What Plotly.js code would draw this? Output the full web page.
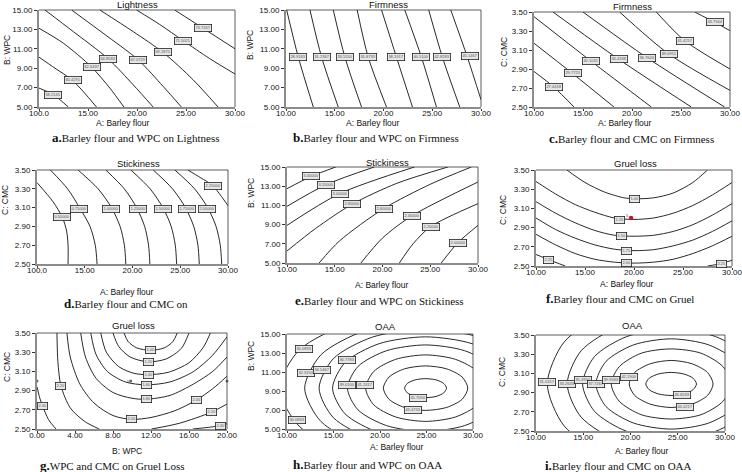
<!DOCTYPE html>
<html>
<head>
<meta charset="utf-8">
<script src="https://cdn.plot.ly/plotly-3.0.1.min.js"></script>
<style>
  html, body { margin: 0; padding: 0; background: #fff; }
  #chart { width: 742px; height: 472px; }
</style>
</head>
<body>
<div id="chart"></div>
<script>
// tick values / labels
const barleyTicks = [10, 15, 20, 25, 30];
const barleyLabels = ['10.00', '15.00', '20.00', '25.00', '30.00'];
const barleyLabelsOdd = ['100.0', '15.00', '20.00', '25.00', '30.00']; // printed like this in a and d
const wpcTicks = [5, 7, 9, 11, 13, 15];
const wpcLabels = ['5.00', '7.00', '9.00', '11.00', '13.00', '15.00'];
const wpcWideTicks = [0, 4, 8, 12, 16, 20];
const wpcWideLabels = ['0.00', '4.00', '8.00', '12.00', '16.00', '20.00'];
const cmcTicks = [2.5, 2.7, 2.9, 3.1, 3.3, 3.5];
const cmcLabels = ['2.50', '2.70', '2.90', '3.10', '3.30', '3.50'];

// a. Lightness (barley x WPC) - contour lines
const lightnessX = [
  [10, 11.46, 12.99],
  [10, 11.63, 13.43, 15.87],
  [10, 12.48, 15.37, 17.23, 18.66],
  [10.61, 13.5, 17.06, 19.61, 21.65],
  [13.33, 16.55, 20.12, 22.67, 24.53],
  [16.21, 19.61, 22.67, 25.72, 28.27],
  [19.95, 22.33, 24.7, 27.4, 30],
  [23.85, 26.74, 30]
];
const lightnessY = [
  [6.95, 6.27, 5],
  [10.14, 9.0, 7.74, 5],
  [13.12, 11.58, 9.11, 6.95, 5],
  [15, 12.77, 9.97, 7.29, 5],
  [15, 12.6, 9.86, 7.12, 5],
  [15, 12.77, 10.62, 7.81, 5],
  [15, 13.5, 11.85, 10.0, 8.4],
  [15, 13.12, 11.0]
];
const lightnessLabX = [11.46, 13.43, 15.37, 17.06, 20.12, 22.67, 24.7, 26.74];
const lightnessLabY = [6.27, 7.74, 9.11, 9.97, 9.86, 10.62, 11.85, 13.12];
const lightnessLabText = ['58.2145', '60.4291', '62.6437', '64.8583', '67.0729', '69.2875', '71.5021', '73.7167'];

// b. Firmness (barley x WPC)
const firmWpcX = [
  [10.07, 11.26, 12.8],
  [12.46, 13.65, 15.36],
  [14.85, 16.04, 17.75],
  [17.3, 18.43, 20.31],
  [19.8, 21.33, 22.97],
  [22.18, 23.89, 25.43],
  [24.64, 26.04, 27.82],
  [26.9, 28.6, 30]
];
const firmWpcY = [
  [15, 10.14, 5], [15, 10.14, 5], [15, 10.14, 5], [15, 10.14, 5],
  [15, 10.14, 5], [15, 10.14, 5], [15, 10.14, 5], [15, 10.14, 5.75]
];
const firmWpcLabX = [11.26, 13.65, 16.04, 18.43, 21.33, 23.89, 26.04, 28.9];
const firmWpcLabY = [10.14, 10.14, 10.2, 10.14, 10.14, 10.14, 10.14, 10.3];
const firmWpcLabText = ['28.9183', '31.2367', '33.5550', '35.8733', '38.1917', '40.5100', '42.8283', '45.1467'];

// c. Firmness (barley x CMC)
const firmCmcX = [
  [10, 12.04, 14.08],
  [10, 13.93, 18.16],
  [10, 15.78, 21.97],
  [11.94, 18.64, 26.05],
  [15.0, 21.56, 29.45],
  [18.74, 23.74, 30],
  [22.48, 25.37, 30],
  [26.4, 28.43, 30]
];
const firmCmcY = [
  [2.874, 2.708, 2.5],
  [3.171, 2.853, 2.5],
  [3.451, 2.986, 2.5],
  [3.5, 3.003, 2.5],
  [3.5, 3.017, 2.5],
  [3.5, 3.059, 2.675],
  [3.5, 3.199, 2.9],
  [3.5, 3.392, 3.304]
];
const firmCmcLabX = [12.04, 13.93, 15.78, 18.64, 21.56, 23.74, 25.37, 28.43];
const firmCmcLabY = [2.708, 2.853, 2.986, 3.003, 3.017, 3.059, 3.199, 3.392];
const firmCmcLabText = ['27.4418', '29.7725', '32.1031', '34.4338', '36.7644', '39.0951', '41.4257', '43.7564'];

// d. Stickiness (barley x CMC)
const stickCmcX = [
  [10, 11.68, 12.66, 13.1, 13.25, 13.25],
  [11.4, 13.2, 14.45, 15.55, 16.1, 16.29],
  [14.3, 16.4, 17.8, 18.7, 19.15, 19.3],
  [17.2, 19.14, 20.43, 21.27, 21.68, 21.82],
  [19.83, 21.84, 23.18, 24.05, 24.48, 24.62],
  [22.17, 24.19, 25.54, 26.41, 26.85, 26.99],
  [24.44, 26.5, 27.87, 28.75, 29.19, 29.34],
  [25.8, 27.1, 28.39, 29.3, 30]
];
const stickCmcY = [
  [3.366, 3.162, 2.996, 2.85, 2.7, 2.5],
  [3.5, 3.3, 3.1, 2.9, 2.7, 2.5],
  [3.5, 3.3, 3.1, 2.9, 2.7, 2.5],
  [3.5, 3.3, 3.1, 2.9, 2.7, 2.5],
  [3.5, 3.3, 3.1, 2.9, 2.7, 2.5],
  [3.5, 3.3, 3.1, 2.9, 2.7, 2.5],
  [3.5, 3.3, 3.1, 2.9, 2.7, 2.5],
  [3.5, 3.42, 3.335, 3.22, 3.12]
];
const stickCmcLabX = [12.66, 14.41, 17.8, 20.59, 23.22, 25.66, 27.83, 28.39];
const stickCmcLabY = [2.996, 3.085, 3.085, 3.085, 3.085, 3.085, 3.085, 3.335];
const stickCmcLabText = ['0.50000', '0.75000', '1.00000', '1.25000', '1.50000', '1.75000', '2.00000', '2.25000'];

// e. Stickiness (barley x WPC)
const stickWpcX = [
  [10, 12.56, 15.11],
  [10, 14.1, 19.14],
  [10, 15.5, 23.35],
  [10, 13, 16.8, 21.5, 26.85],
  [13.36, 15.5, 20.12, 25, 29.3],
  [17.74, 20, 23.06, 30],
  [21.77, 23.2, 25.03, 30],
  [26.15, 27.9, 30]
];
const stickWpcY = [
  [12.74, 14.03, 15],
  [10.9, 13.16, 15],
  [8.92, 12.22, 15],
  [6.25, 8.6, 11.11, 13.3, 15],
  [5, 7.3, 10.66, 13.2, 15],
  [5, 7.6, 9.9, 13.44],
  [5, 7.0, 8.78, 11.18],
  [5, 7.12, 8.92]
];
const stickWpcLabX = [12.56, 14.1, 15.5, 16.8, 20.12, 23.06, 25.03, 27.9];
const stickWpcLabY = [14.03, 13.16, 12.22, 11.11, 10.66, 9.9, 8.78, 7.12];
const stickWpcLabText = ['3.40000', '3.20000', '3.00000', '2.80000', '2.60000', '2.40000', '2.20000', '2.00000'];

// f. Gruel loss (barley x CMC)
const gruelBfX = [
  [13.15, 15, 17, 19, 20.1, 22, 24, 26, 27.5],
  [10, 12, 14, 16, 18, 20, 22, 24, 26, 28, 30],
  [10, 12, 14, 16, 18, 20, 22, 24, 26, 28, 30],
  [10, 12, 14, 16, 18, 20, 22, 24, 26, 28, 30],
  [10, 12, 14, 16, 18, 20, 22, 24, 26, 28, 30],
  [10, 11.29, 12.98],
  [27.5, 28.9, 30]
];
const gruelBfY = [
  [3.5, 3.37, 3.27, 3.21, 3.2, 3.21, 3.26, 3.37, 3.5],
  [3.38, 3.25, 3.14, 3.06, 3.0, 2.985, 3.0, 3.05, 3.13, 3.24, 3.37],
  [3.17, 3.05, 2.95, 2.87, 2.82, 2.81, 2.82, 2.86, 2.93, 3.03, 3.15],
  [3.0, 2.88, 2.79, 2.72, 2.675, 2.66, 2.67, 2.71, 2.77, 2.86, 2.97],
  [2.83, 2.72, 2.63, 2.57, 2.54, 2.53, 2.54, 2.57, 2.63, 2.71, 2.81],
  [2.62, 2.566, 2.5],
  [2.5, 2.525, 2.56]
];
const gruelBfLabX = [20.1, 18.47, 18.7, 19.25, 19.25, 11.29, 28.9];
const gruelBfLabY = [3.2, 2.98, 2.81, 2.66, 2.53, 2.566, 2.525];
const gruelBfLabText = ['1.00', '1.25', '1.50', '1.75', '2.00', '2.25', '2.25'];
const gruelBfPointX = [19.7];
const gruelBfPointY = [3.0];

// g. Gruel loss (WPC x CMC)
const gruelWcX = [
  [9.16, 9.6, 10.5, 11.96, 13.4, 14.3, 14.76],
  [8.0, 8.6, 9.8, 11.7, 13.6, 15.2, 16.0],
  [6.71, 7.3, 8.6, 10.2, 11.7, 13.8, 16.0, 17.5, 18.25],
  [5.66, 6.2, 7.4, 9.3, 11.5, 14.0, 16.5, 18.5, 20],
  [4.6, 5.1, 6.2, 8.0, 10.0, 11.5, 14.0, 16.5, 18.5, 20],
  [3.15, 3.5, 4.5, 6.0, 8.0, 9.97, 12.0, 14.5, 16.75, 18.5, 20],
  [2.1, 2.2, 2.52, 3.5, 5.0, 6.54],
  [12.06, 15.0, 18.32, 20],
  [0, 0.3, 0.59, 1.2, 2.0],
  [16.4, 18.3, 19.3, 20]
];
const gruelWcY = [
  [3.5, 3.41, 3.345, 3.32, 3.345, 3.41, 3.5],
  [3.5, 3.36, 3.25, 3.2, 3.23, 3.34, 3.5],
  [3.5, 3.3, 3.15, 3.08, 3.066, 3.09, 3.19, 3.35, 3.5],
  [3.5, 3.28, 3.1, 2.99, 2.96, 2.99, 3.1, 3.27, 3.46],
  [3.5, 3.25, 3.03, 2.88, 2.82, 2.81, 2.85, 2.97, 3.1, 3.25],
  [3.5, 3.25, 2.97, 2.77, 2.64, 2.6, 2.62, 2.69, 2.8, 2.92, 3.05],
  [3.5, 3.2, 2.95, 2.72, 2.58, 2.5],
  [2.5, 2.56, 2.674, 2.76],
  [2.94, 2.82, 2.74, 2.6, 2.5],
  [2.5, 2.52, 2.535, 2.555]
];
const gruelWcLabX = [11.96, 11.71, 11.71, 11.5, 11.5, 9.97, 16.75, 2.52, 18.32, 0.59, 19.3];
const gruelWcLabY = [3.326, 3.2, 3.066, 2.96, 2.81, 2.6, 2.8, 2.95, 2.674, 2.74, 2.535];
const gruelWcLabText = ['1.00', '1.20', '1.40', '1.60', '1.80', '2.00', '2.00', '2.20', '2.20', '2.40', '2.40'];
const gruelWcPointX = [0, 20, 9.86];
const gruelWcPointY = [3.0, 3.0, 3.0];

// h. OAA (barley x WPC) - closed rings, clipped by the axes
const oaaWpcX = [
  [27.15, 26.85, 26.03, 24.9, 23.78, 22.95, 22.65, 22.95, 23.78, 24.9, 26.03, 26.85, 27.15],
  [29.44, 28.83, 27.17, 24.9, 22.63, 20.97, 20.36, 20.97, 22.63, 24.9, 27.17, 28.83, 29.44],
  [31.34, 30.48, 28.12, 24.9, 21.68, 19.32, 18.46, 19.32, 21.68, 24.9, 28.12, 30.48, 31.34],
  [33.3, 32.17, 29.1, 24.9, 20.7, 17.63, 16.5, 17.63, 20.7, 24.9, 29.1, 32.17, 33.3],
  [34.9, 33.56, 29.9, 24.9, 19.9, 16.24, 14.9, 16.24, 19.9, 24.9, 29.9, 33.56, 34.9],
  [36.35, 34.82, 30.63, 24.9, 19.17, 14.98, 13.45, 14.98, 19.17, 24.9, 30.63, 34.82, 36.35],
  [37.9, 36.16, 31.4, 24.9, 18.4, 13.64, 11.9, 13.64, 18.4, 24.9, 31.4, 36.16, 37.9],
  [40.6, 38.5, 32.75, 24.9, 17.05, 11.3, 9.2, 11.3, 17.05, 24.9, 32.75, 38.5, 40.6]
];
const oaaWpcY = [
  [9.3, 9.8, 10.17, 10.3, 10.17, 9.8, 9.3, 8.8, 8.43, 8.3, 8.43, 8.8, 9.3],
  [9.3, 10.47, 11.33, 11.64, 11.33, 10.47, 9.3, 8.13, 7.27, 6.96, 7.27, 8.13, 9.3],
  [9.3, 11.05, 12.33, 12.8, 12.33, 11.05, 9.3, 7.55, 6.27, 5.8, 6.27, 7.55, 9.3],
  [9.3, 11.58, 13.24, 13.85, 13.24, 11.58, 9.3, 7.02, 5.36, 4.75, 5.36, 7.02, 9.3],
  [9.3, 12.0, 13.98, 14.7, 13.98, 12.0, 9.3, 6.6, 4.62, 3.9, 4.62, 6.6, 9.3],
  [9.3, 12.4, 14.67, 15.5, 14.67, 12.4, 9.3, 6.2, 3.93, 3.1, 3.93, 6.2, 9.3],
  [9.3, 12.8, 15.36, 16.3, 15.36, 12.8, 9.3, 5.8, 3.24, 2.3, 3.24, 5.8, 9.3],
  [9.3, 13.3, 16.23, 17.3, 16.23, 13.3, 9.3, 5.3, 2.37, 1.3, 2.37, 5.3, 9.3]
];
const oaaWpcLabX = [11.82, 12.0, 13.8, 16.44, 16.48, 18.34, 24.06, 23.56, 11.1];
const oaaWpcLabY = [13.39, 10.87, 11.22, 12.27, 9.65, 9.65, 8.3, 7.0, 5.98];
const oaaWpcLabText = ['30.0833', '32.3150', '34.5467', '36.7783', '39.0100', '41.2417', '45.7050', '43.4733', '30.0833'];

// i. OAA (barley x CMC)
const oaaCmcX = [
  [26.98, 26.62, 25.64, 24.3, 22.96, 21.98, 21.62, 21.98, 22.96, 24.3, 25.64, 26.62, 26.98],
  [28.74, 28.15, 26.52, 24.3, 22.08, 20.45, 19.86, 20.45, 22.08, 24.3, 26.52, 28.15, 28.74],
  [30.64, 29.79, 27.47, 24.3, 21.13, 18.81, 17.96, 18.81, 21.13, 24.3, 27.47, 29.79, 30.64],
  [32.26, 31.19, 28.28, 24.3, 20.32, 17.41, 16.34, 17.41, 20.32, 24.3, 28.28, 31.19, 32.26],
  [33.67, 32.41, 28.99, 24.3, 19.61, 16.19, 14.93, 16.19, 19.61, 24.3, 28.99, 32.41, 33.67],
  [35.3, 33.83, 29.8, 24.3, 18.8, 14.77, 13.3, 14.77, 18.8, 24.3, 29.8, 33.83, 35.3],
  [37.4, 35.64, 30.85, 24.3, 17.75, 12.96, 11.2, 12.96, 17.75, 24.3, 30.85, 35.64, 37.4]
];
const oaaCmcY = [
  [2.99, 3.05, 3.094, 3.11, 3.094, 3.05, 2.99, 2.93, 2.886, 2.87, 2.886, 2.93, 2.99],
  [2.99, 3.11, 3.2, 3.235, 3.2, 3.11, 2.99, 2.87, 2.78, 2.745, 2.78, 2.87, 2.99],
  [2.99, 3.17, 3.31, 3.355, 3.31, 3.17, 2.99, 2.81, 2.67, 2.625, 2.67, 2.81, 2.99],
  [2.99, 3.225, 3.397, 3.46, 3.397, 3.225, 2.99, 2.755, 2.583, 2.52, 2.583, 2.755, 2.99],
  [2.99, 3.275, 3.484, 3.56, 3.484, 3.275, 2.99, 2.705, 2.496, 2.42, 2.496, 2.705, 2.99],
  [2.99, 3.335, 3.588, 3.68, 3.588, 3.335, 2.99, 2.645, 2.392, 2.3, 2.392, 2.645, 2.99],
  [2.99, 3.425, 3.743, 3.86, 3.743, 3.425, 2.99, 2.555, 2.237, 2.12, 2.237, 2.555, 2.99]
];
const oaaCmcLabX = [11.16, 13.27, 14.93, 16.34, 17.96, 19.86, 25.5, 25.8];
const oaaCmcLabY = [3.01, 2.99, 3.03, 2.99, 3.03, 3.06, 2.875, 2.755];
const oaaCmcLabText = ['31.0317', '33.2633', '35.4950', '37.7267', '39.9583', '42.1900', '46.6533', '44.4217'];

// panel geometry in page pixels: [left, right, top, bottom]
const panels = [
  { box: [39, 235, 10, 107], lx: lightnessX, ly: lightnessY, labX: lightnessLabX, labY: lightnessLabY, labT: lightnessLabText,
    xr: [10, 30], xt: [barleyTicks, barleyLabelsOdd], yr: [5, 15], yt: [wpcTicks, wpcLabels],
    title: ['Lightness', 137, 5], xTitle: ['A: Barley flour', 123, 123], yTitle: ['B: WPC', 7, 50],
    cap: ['a.', 'Barley flour and WPC on Lightness', 136, 137] },
  { box: [286, 481, 10, 107], lx: firmWpcX, ly: firmWpcY, labX: firmWpcLabX, labY: firmWpcLabY, labT: firmWpcLabText,
    xr: [10, 30], xt: [barleyTicks, barleyLabels], yr: [5, 15], yt: [wpcTicks, wpcLabels],
    title: ['Firmness', 388, 5], xTitle: ['A: Barley flour', 373, 123], yTitle: ['B: WPC', 250, 45],
    cap: ['b.', 'Barley flour and WPC on Firmness', 376, 137] },
  { box: [534, 730, 12, 107], lx: firmCmcX, ly: firmCmcY, labX: firmCmcLabX, labY: firmCmcLabY, labT: firmCmcLabText,
    xr: [10, 30], xt: [barleyTicks, barleyLabels], yr: [2.5, 3.5], yt: [cmcTicks, cmcLabels],
    title: ['Firmness', 632, 7], xTitle: ['A: Barley flour', 625, 123], yTitle: ['C: CMC', 504, 52],
    cap: ['c.', 'Barley flour and CMC on Firmness', 631, 138] },
  { box: [37, 228, 170, 264], lx: stickCmcX, ly: stickCmcY, labX: stickCmcLabX, labY: stickCmcLabY, labT: stickCmcLabText,
    xr: [10, 30], xt: [barleyTicks, barleyLabelsOdd], yr: [2.5, 3.5], yt: [cmcTicks, cmcLabels],
    title: ['Stickiness', 138, 163], xTitle: ['A: Barley flour', 127, 292], yTitle: ['C: CMC', 5, 200],
    cap: ['d.', 'Barley flour and CMC on', 126, 303] },
  { box: [287, 478, 167, 263], lx: stickWpcX, ly: stickWpcY, labX: stickWpcLabX, labY: stickWpcLabY, labT: stickWpcLabText,
    xr: [10, 30], xt: [barleyTicks, barleyLabels], yr: [5, 15], yt: [wpcTicks, wpcLabels],
    title: ['Stickiness', 387, 162], xTitle: ['A: Barley flour', 382, 285], yTitle: ['B: WPC', 251, 193],
    cap: ['e.', 'Barley flour and WPC on Stickiness', 379, 300] },
  { box: [536, 732, 170, 266], lx: gruelBfX, ly: gruelBfY, labX: gruelBfLabX, labY: gruelBfLabY, labT: gruelBfLabText,
    xr: [10, 30], xt: [barleyTicks, barleyLabels], yr: [2.5, 3.5], yt: [cmcTicks, cmcLabels],
    title: ['Gruel loss', 635, 163], xTitle: ['A: Barley flour', 627, 284], yTitle: ['C: CMC', 503, 210],
    cap: ['f.', 'Barley flour and CMC on Gruel', 620, 298],
    pts: [gruelBfPointX, gruelBfPointY, '#c0182a', 4.5] },
  { box: [37, 227, 333, 429], lx: gruelWcX, ly: gruelWcY, labX: gruelWcLabX, labY: gruelWcLabY, labT: gruelWcLabText,
    xr: [0, 20], xt: [wpcWideTicks, wpcWideLabels], yr: [2.5, 3.5], yt: [cmcTicks, cmcLabels],
    title: ['Gruel loss', 133, 325], xTitle: ['B: WPC', 127, 451], yTitle: ['C: CMC', 7, 367],
    cap: ['g.', 'WPC and CMC on Gruel Loss', 112, 465],
    pts: [gruelWcPointX, gruelWcPointY, '#666', 3] },
  { box: [287, 473, 334, 429], lx: oaaWpcX, ly: oaaWpcY, labX: oaaWpcLabX, labY: oaaWpcLabY, labT: oaaWpcLabText,
    xr: [10, 30], xt: [barleyTicks, barleyLabels], yr: [5, 15], yt: [wpcTicks, wpcLabels],
    title: ['OAA', 385, 326], xTitle: ['A: Barley flour', 397, 447], yTitle: ['B: WPC', 251, 356],
    cap: ['h.', 'Barley flour and WPC on OAA', 367, 464] },
  { box: [536, 725, 335, 431], lx: oaaCmcX, ly: oaaCmcY, labX: oaaCmcLabX, labY: oaaCmcLabY, labT: oaaCmcLabText,
    xr: [10, 30], xt: [barleyTicks, barleyLabels], yr: [2.5, 3.5], yt: [cmcTicks, cmcLabels],
    title: ['OAA', 632, 325], xTitle: ['A: Barley flour', 642, 451], yTitle: ['C: CMC', 502, 372],
    cap: ['i.', 'Barley flour and CMC on OAA', 618, 465] }
];

const W = 742, H = 472;
const sans = 'Liberation Sans, Arial, sans-serif';
const serif = 'Liberation Serif, Times New Roman, serif';
const fx = (v) => v / W;
const fy = (v) => 1 - v / H;

const traces = [];
const annotations = [];
const shapes = [];
const layout = {
  width: W, height: H,
  margin: { l: 0, r: 0, t: 0, b: 0 },
  paper_bgcolor: '#fff', plot_bgcolor: '#fff',
  showlegend: false,
  font: { family: sans, color: '#111' }
};

function pageText(text, x, y, size, extra) {
  annotations.push(Object.assign({
    text: text, xref: 'paper', yref: 'paper', x: fx(x), y: fy(y),
    xanchor: 'center', yanchor: 'middle', showarrow: false,
    font: { family: sans, size: size, color: '#111' }
  }, extra || {}));
}

panels.forEach((p, idx) => {
  const n = idx + 1;
  const sfx = n === 1 ? '' : String(n);
  const xa = 'x' + sfx, ya = 'y' + sfx;

  // left and bottom axes are heavier grey lines, top/right is a thin dark frame
  layout['xaxis' + sfx] = {
    domain: [fx(p.box[0]), fx(p.box[1])], range: p.xr, anchor: ya,
    tickvals: p.xt[0], ticktext: p.xt[1], ticks: 'outside', ticklen: 2, tickwidth: 1,
    ticklabelstandoff: -4, ticklabeloverflow: 'allow',
    tickcolor: '#333', tickfont: { size: 8, family: sans, color: '#111' },
    showline: true, mirror: false, linecolor: '#8c8c8c', linewidth: 1.6,
    showgrid: false, zeroline: false, fixedrange: true
  };
  layout['yaxis' + sfx] = {
    domain: [fy(p.box[3]), fy(p.box[2])], range: p.yr, anchor: xa,
    tickvals: p.yt[0], ticktext: p.yt[1], ticks: 'outside', ticklen: 3, tickwidth: 1,
    ticklabeloverflow: 'allow',
    tickcolor: '#333', tickfont: { size: 8, family: sans, color: '#111' },
    showline: true, mirror: false, linecolor: '#8c8c8c', linewidth: 2,
    showgrid: false, zeroline: false, fixedrange: true
  };
  shapes.push({
    type: 'path', xref: xa + ' domain', yref: ya + ' domain',
    path: 'M 0 1 L 1 1 L 1 0', line: { color: '#333', width: 0.8 }
  });

  // contour lines
  p.lx.forEach((xs, k) => {
    traces.push({
      type: 'scatter', mode: 'lines', x: xs, y: p.ly[k], xaxis: xa, yaxis: ya,
      line: { color: '#111', width: 0.9, shape: 'spline', smoothing: 0.8 },
      hoverinfo: 'skip', showlegend: false
    });
  });

  // design points
  if (p.pts) {
    traces.push({
      type: 'scatter', mode: 'markers', x: p.pts[0], y: p.pts[1], xaxis: xa, yaxis: ya,
      marker: { color: p.pts[2], size: p.pts[3] }, cliponaxis: false,
      hoverinfo: 'skip', showlegend: false
    });
  }

  // contour value boxes
  p.labX.forEach((x, k) => {
    annotations.push({
      text: p.labT[k], x: x, y: p.labY[k], xref: xa, yref: ya, showarrow: false,
      font: { size: 4, family: sans, color: '#555' },
      bgcolor: '#e6e6e6', bordercolor: '#222', borderwidth: 0.8, borderpad: 0.6
    });
  });

  pageText(p.title[0], p.title[1], p.title[2], 9.5);
  pageText(p.xTitle[0], p.xTitle[1], p.xTitle[2], 8.5);
  pageText(p.yTitle[0], p.yTitle[1], p.yTitle[2], 8.5, { textangle: -90 });
  pageText('<span style="font-size:13px;font-weight:bold">' + p.cap[0] + '</span>' + p.cap[1],
    p.cap[2], p.cap[3], 11, { font: { family: serif, size: 11, color: '#111' } });
});

// small run-number tags next to the centre points
annotations.push({ text: '5', x: 19.3, y: 3.03, xref: 'x6', yref: 'y6', showarrow: false,
  font: { size: 4, family: sans, color: '#333' } });
annotations.push({ text: '5', x: 9.6, y: 3.0, xref: 'x7', yref: 'y7', showarrow: false,
  font: { size: 4, family: sans, color: '#333' } });

layout.annotations = annotations;
layout.shapes = shapes;

Plotly.newPlot('chart', traces, layout, { staticPlot: true, displayModeBar: false });
</script>
</body>
</html>
